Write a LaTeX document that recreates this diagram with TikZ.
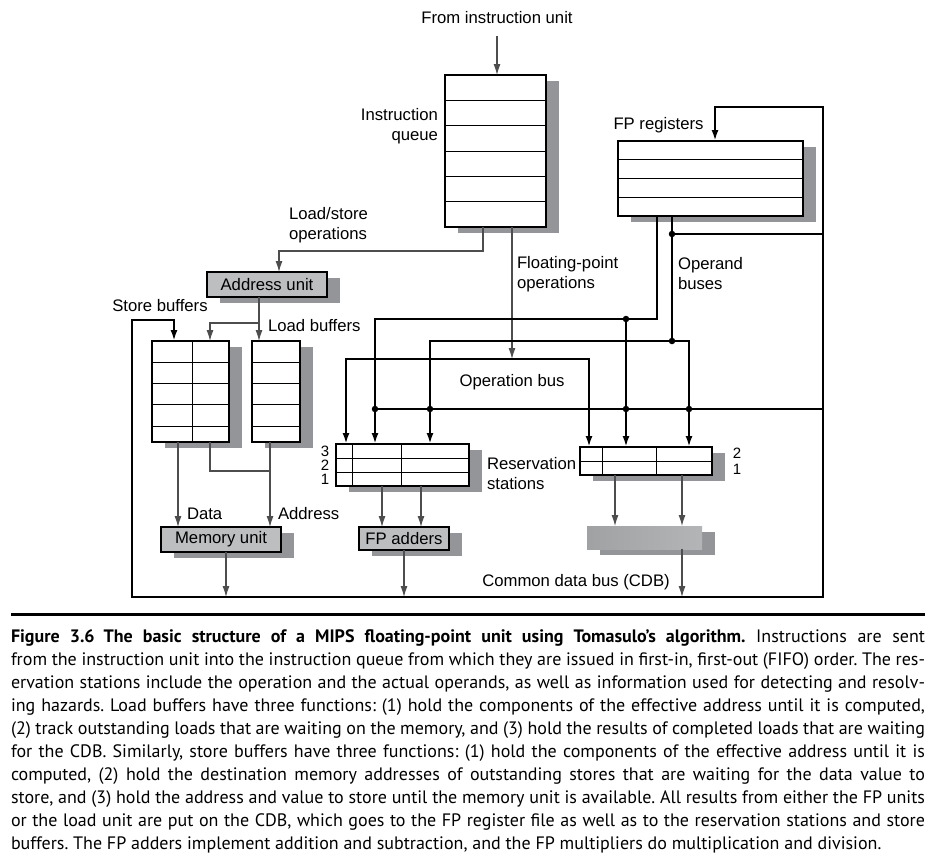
\documentclass[tikz,border=0pt]{standalone}
\usepackage{fontspec}
\setmainfont{Liberation Sans}
\newfontfamily\capfont{PT Sans}
\usetikzlibrary{arrows.meta,shadows,calc}
\definecolor{shadowgray}{HTML}{939598}
\definecolor{unitgray}{HTML}{BCBEC0}
\definecolor{wiregray}{HTML}{4D4D4D}
\newcommand{\capline}[1]{\hbox to\hsize{#1}}

\begin{document}
\begin{tikzpicture}[x=1pt,y=-1pt,
    font=\fontsize{16.7}{20}\selectfont,
    every node/.style={inner sep=0pt, outer sep=0pt},
    >={Latex[length=11pt,width=7pt]},
    buffer/.style={draw, line width=1.1pt, fill=white,
      general shadow={fill=shadowgray, shadow xshift=13pt, shadow yshift=-6pt}},
    unit/.style={buffer, fill=unitgray},
    cell/.style={line width=1pt},
    wire/.style={draw=wiregray, line width=1.1pt},
    bus/.style={draw=black, line width=2.2pt},
    junction/.style={circle, fill=black, minimum size=6.5pt},
    slot/.style={font=\fontsize{15}{15}\selectfont, text height=10pt, text depth=0pt}]
	\useasboundingbox (0,0) rectangle (933,862);

	\node (from) at (497,18) {From instruction unit};
	\node[buffer, minimum width=101pt, minimum height=152pt] (iq) at (495.5,151) {};
	\node[anchor=east, align=right] (iqlabel) at (438,126) {Instruction\\queue};
	\node[buffer, minimum width=185pt, minimum height=75pt] (fpr) at (710.5,178.5) {};
	\node (fprlabel) at (658.5,125) {FP registers};

	\node[unit, minimum width=120pt, minimum height=25pt] (addr) at (267,284.5) {Address unit};
	\node[anchor=west, align=left] (lslabel) at (289,225) {Load/store\\operations};
	\node[anchor=west, align=left] (fplabel) at (517,274) {Floating-point\\operations};
	\node[anchor=west, align=left] (oplabel) at (678,274) {Operand\\buses};

	\node[buffer, minimum width=77pt, minimum height=101pt] (stb) at (190.5,391.5) {};
	\node[buffer, minimum width=48pt, minimum height=101pt] (ldb) at (276,391.5) {};
	\node (stblabel) at (160,306) {Store buffers};
	\node[anchor=west] (ldblabel) at (268,326) {Load buffers};

	\node[buffer, minimum width=133pt, minimum height=42pt] (lrs) at (402.5,465) {};
	\node[buffer, minimum width=132pt, minimum height=28pt] (rrs) at (646,461) {};
	\node (obuslabel) at (512,382) {Operation bus};
	\node[anchor=west, align=left] (rslabel) at (487,474) {Reservation\\stations};
	\node[slot] (l3) at (325,451) {3};
	\node[slot] (l2) at (325,465) {2};
	\node[slot] (l1) at (325,479) {1};
	\node[slot] (r2) at (737,453) {2};
	\node[slot] (r1) at (737,469) {1};

	\node[unit, minimum width=120pt, minimum height=25pt] (mem) at (221,539.5) {Memory unit};
	\node[buffer, left color=unitgray, middle color=white!85!unitgray, right color=unitgray,
	      minimum width=90pt, minimum height=23pt] (add) at (404,538.5) {FP adders};
	\node[buffer, draw=none, left color=unitgray!85!black, middle color=white!60!unitgray, right color=unitgray!95!black,
	      minimum width=115pt, minimum height=23pt] (mul) at (644.5,537.5) {};
	\node[anchor=west] (dlabel) at (187,514) {Data};
	\node[anchor=west] (alabel) at (278,514) {Address};
	\node (cdblabel) at (576,582) {Common data bus (CDB)};

	% cells
	\foreach \k in {1,...,5}
		\draw[cell] ($(iq.north west)!\k/6!(iq.south west)$) -- ($(iq.north east)!\k/6!(iq.south east)$);
	\foreach \k in {1,2,3}
		\draw[cell] ($(fpr.north west)!\k/4!(fpr.south west)$) -- ($(fpr.north east)!\k/4!(fpr.south east)$);
	\foreach \y in {362,383,404,426}{
		\draw[cell] (stb.west |- 0,\y) -- (stb.east |- 0,\y);
		\draw[cell] (ldb.west |- 0,\y) -- (ldb.east |- 0,\y);
	}
	\draw[cell] (stb.north -| 192,0) -- (stb.south -| 192,0);
	\foreach \y in {458,472}
		\draw[cell] (lrs.west |- 0,\y) -- (lrs.east |- 0,\y);
	\foreach \x in {352,401}
		\draw[cell] (lrs.north -| \x,0) -- (lrs.south -| \x,0);
	\draw[cell] (rrs.west) -- (rrs.east);
	\foreach \x in {602,656}
		\draw[cell] (rrs.north -| \x,0) -- (rrs.south -| \x,0);

	% instruction paths
	\coordinate (lsbend) at (483,251);
	\coordinate (fpop) at (512,359);
	\coordinate (abranch) at (259,323);
	\coordinate (sx) at (210,0);
	\coordinate (dx) at (178,0);
	\coordinate (ax) at (270,471);
	\draw[wire,->] (from.south) ++(0,12) -- (from |- iq.north);
	\draw[wire,->] (iq.south -| lsbend) -- (lsbend) -| ($(addr.north)+(12,0)$);
	\draw[wire,->] (iq.south -| fpop) -- (fpop);
	\draw[wire,->] (addr.south -| abranch) -- (ldb.north -| abranch);
	\draw[wire,->] (abranch) -| (stb.north -| sx);
	\draw[wire,->] (stb.south -| dx) -- (mem.north -| dx);
	\draw[wire] (stb.south -| sx) |- (ax);
	\draw[wire,->] (ldb.south -| ax) -- (mem.north -| ax);
	\foreach \x in {382,421}
		\draw[wire,->] (lrs.south -| \x,0) -- (add.north -| \x,0);
	\foreach \x in {615,682}
		\draw[wire,->] (rrs.south -| \x,0) -- (mul.north -| \x,0);

	% common data bus
	\coordinate (cdbL) at (132,597);
	\coordinate (cdbR) at (823,597);
	\coordinate (sbcdb) at (174,320);
	\coordinate (regin) at (715,107);
	\draw[wire,->] (mem.south -| 226,0) -- (cdbL -| 226,0);
	\draw[wire,->] (add.south) -- (cdbL -| add.south);
	\draw[wire,->] (mul.south -| 682,0) -- (cdbL -| 682,0);
	\draw[bus,<->] (sbcdb |- stb.north) -- (sbcdb) -| (cdbL) -| (cdbR) |- (regin) -- (regin |- fpr.north);

	% operand and operation buses
	\coordinate (rj) at (672,234);
	\coordinate (cj) at (375,409);
	\coordinate (opa) at (657,319);
	\coordinate (opa2) at (626,319);
	\coordinate (opb) at (672,341);
	\coordinate (opbl) at (430,341);
	\coordinate (opbr) at (689,341);
	\coordinate (obl) at (346,359);
	\coordinate (obr) at (589,359);
	\draw[bus] (rj) -- (rj -| cdbR);
	\draw[bus] (cj) -- (cj -| cdbR);
	\draw[bus,->] (fpr.south -| opa) -- (opa) -| (cj |- lrs.north);
	\draw[bus,->] (opa2) -- (opa2 |- rrs.north);
	\draw[bus] (fpr.south -| opb) -- (opb);
	\draw[bus,<->] (opbl |- lrs.north) -- (opbl) -- (opbr) -- (opbr |- rrs.north);
	\draw[bus,<->] (obl |- lrs.north) -- (obl) -- (obr) -- (obr |- rrs.north);
	\foreach \p in {rj,cj,opa2,opb}
		\node[junction] at (\p) {};
	\foreach \x in {430,626,689}
		\node[junction] at (cj -| \x,0) {};

	% caption
	\draw[line width=3pt] (11,614) -- (925,614);
	\node[anchor=base west] (caption) at (11,642) {\parbox[t]{914pt}{\capfont\frenchspacing\fontsize{18}{23}\selectfont
		\capline{\textbf{Figure 3.6\enspace The basic structure of a MIPS floating-point unit using Tomasulo’s algorithm.} Instructions are sent}
		\capline{from the instruction unit into the instruction queue from which they are issued in first-in, first-out (FIFO) order. The res-}
		\capline{ervation stations include the operation and the actual operands, as well as information used for detecting and resolv-}
		\capline{ing hazards. Load buffers have three functions: (1) hold the components of the effective address until it is computed,}
		\capline{(2) track outstanding loads that are waiting on the memory, and (3) hold the results of completed loads that are waiting}
		\capline{for the CDB. Similarly, store buffers have three functions: (1) hold the components of the effective address until it is}
		\capline{computed, (2) hold the destination memory addresses of outstanding stores that are waiting for the data value to}
		\capline{store, and (3) hold the address and value to store until the memory unit is available. All results from either the FP units}
		\capline{or the load unit are put on the CDB, which goes to the FP register file as well as to the reservation stations and store}
		\hbox{buffers. The FP adders implement addition and subtraction, and the FP multipliers do multiplication and division.}}};
\end{tikzpicture}
\end{document}
